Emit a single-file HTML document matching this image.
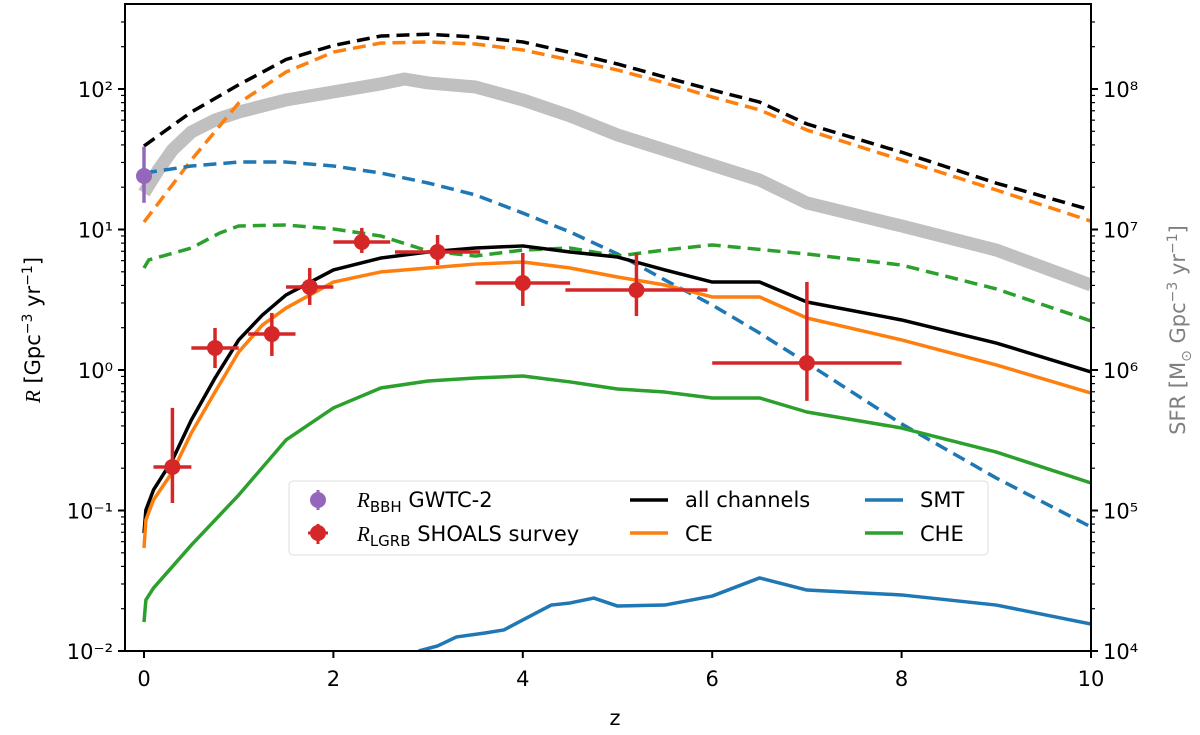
<!DOCTYPE html>
<html><head><meta charset="utf-8"><style>
body{margin:0;background:#fff}
svg{display:block;font-family:"DejaVu Sans","Liberation Sans",sans-serif}
</style></head><body>
<svg id="chart" width="1200" height="735" viewBox="0 0 1200 735" xmlns="http://www.w3.org/2000/svg">
<g id="plot"></g>
<g id="axes"></g>
</svg>
<script>
// ---- data (log10 of rate in Gpc^-3 yr^-1) ----
const zMain=[0,0.5,1,1.5,2,2.5,3,3.5,4,4.5,5,5.5,6,6.5,7,8,9,10];
const allDashed=[1.594,1.836,2.03,2.21,2.31,2.377,2.39,2.37,2.335,2.26,2.178,2.085,1.993,1.907,1.751,1.55,1.33,1.139];
const ceDashed=[1.053,1.495,1.9,2.121,2.263,2.327,2.335,2.32,2.278,2.206,2.135,2.043,1.943,1.851,1.708,1.495,1.281,1.06];
const smtDashed=[1.402,1.452,1.48,1.48,1.452,1.402,1.331,1.246,1.117,0.982,0.826,0.641,0.463,0.263,0.05,-0.384,-0.769,-1.117];
const zSfr=[0,0.15,0.3,0.5,0.75,1,1.5,2,2.5,2.75,3,3.5,4,4.5,5,5.5,6,6.5,7,8,9,10];
const sfr=[1.26,1.423,1.566,1.694,1.779,1.836,1.922,1.979,2.036,2.071,2.043,2.014,1.922,1.808,1.673,1.566,1.459,1.352,1.189,1.025,0.854,0.605];
const zCheD=[0,0.05,0.5,0.8,1,1.5,2,2.5,3,3.5,4,4.5,5,5.5,6,7,8,9,10];
const cheDashed=[0.726,0.783,0.868,0.975,1.025,1.032,1.004,0.954,0.847,0.811,0.854,0.868,0.811,0.854,0.89,0.826,0.747,0.577,0.349];
const zSolid=[0,0.02,0.1,0.3,0.5,0.75,1,1.25,1.5,2,2.5,3,3.5,4,4.5,5,5.5,6,6.5,7,8,9,10];
const allSolid=[-1.16,-0.996,-0.854,-0.641,-0.356,-0.057,0.214,0.391,0.534,0.712,0.797,0.84,0.868,0.883,0.84,0.804,0.712,0.626,0.626,0.484,0.356,0.192,-0.014];
const ceSolid=[-1.267,-1.068,-0.925,-0.726,-0.448,-0.157,0.128,0.32,0.441,0.626,0.698,0.726,0.754,0.769,0.726,0.662,0.605,0.52,0.52,0.37,0.214,0.036,-0.164];
const zChe=[0,0.02,0.1,0.5,1,1.5,2,2.5,3,3.5,4,4.5,5,5.5,6,6.5,7,8,9,10];
const cheSolid=[-1.794,-1.637,-1.552,-1.246,-0.89,-0.498,-0.27,-0.128,-0.078,-0.057,-0.043,-0.085,-0.135,-0.157,-0.199,-0.199,-0.299,-0.413,-0.584,-0.804];
const zSmt=[2.9,3.1,3.3,3.6,3.8,4,4.3,4.5,4.75,5,5.5,6,6.5,7,8,9,10];
const smtSolid=[-2,-1.964,-1.9,-1.872,-1.85,-1.779,-1.673,-1.658,-1.623,-1.68,-1.673,-1.609,-1.48,-1.566,-1.601,-1.673,-1.808];
// LGRB points: z, xerr, log value, log low, log high
const lgrbZ=[0.3,0.75,1.35,1.75,2.3,3.1,4.0,5.2,7.0];
const lgrbXerr=[0.2,0.25,0.25,0.25,0.3,0.45,0.5,0.75,1.0];
const lgrbVal=[-0.69,0.157,0.256,0.591,0.911,0.84,0.619,0.569,0.05];
const lgrbLo=[-0.947,0.014,0.1,0.463,0.833,0.747,0.456,0.384,-0.22];
const lgrbHi=[-0.27,0.299,0.406,0.726,1.011,0.961,0.833,0.833,0.626];
const bbhZ=[0], bbhVal=[1.381], bbhLo=[1.19], bbhHi=[1.59];
const xTicks=[0,2,4,6,8,10];
const yTicks=[-2,-1,0,1,2];
const yTickLabels=["10\u207b\u00b2","10\u207b\u00b9","10\u2070","10\u00b9","10\u00b2"];
const rTickLabels=["10\u2074","10\u2075","10\u2076","10\u2077","10\u2078"];

const L=125,R=1091,T=4,B=651;
const X=z=>144+z*94.7;
const Y=lg=>651-(lg+2)*140.5;
const NS="http://www.w3.org/2000/svg";
const plot=document.getElementById('plot'), axes=document.getElementById('axes');
function mk(tag,attrs,parent){const e=document.createElementNS(NS,tag);for(const k in attrs)e.setAttribute(k,attrs[k]);parent.appendChild(e);return e;}
const cp=mk('clipPath',{id:'clip'},plot);
mk('rect',{x:L,y:T,width:R-L,height:B-T},cp);
const g=mk('g',{'clip-path':'url(#clip)'},plot);
function line(zs,vs,color,w,dash,name){
  const p=mk('polyline',{points:zs.map((z,i)=>X(z)+','+Y(vs[i])).join(' '),fill:'none',stroke:color,'stroke-width':w,'stroke-dasharray':dash||'none','stroke-linejoin':'round'},g);
  
  
}
line(zSfr,sfr,'#c0c0c0',13,null,'sfr-band');
line(zMain,allDashed,'#000',3.5,'13,7','all-channels-dashed');
line(zMain,ceDashed,'#ff7f0e',3.5,'13,7','ce-dashed');
line(zMain,smtDashed,'#1f77b4',3.5,'13,7','smt-dashed');
line(zCheD,cheDashed,'#2ca02c',3.5,'13,7','che-dashed');
line(zSolid,allSolid,'#000',3.5,null,'all-channels-line');
line(zSolid,ceSolid,'#ff7f0e',3.5,null,'ce-line');
line(zChe,cheSolid,'#2ca02c',3.5,null,'che-line');
line(zSmt,smtSolid,'#1f77b4',3.5,null,'smt-line');
function pts(zs,vs,lo,hi,xe,color,name){
  zs.forEach((z,i)=>{
    const gg=mk('g',{},g);
    
    
    mk('line',{x1:X(z),x2:X(z),y1:Y(lo[i]),y2:Y(hi[i]),stroke:color,'stroke-width':3.5},gg);
    if(xe) mk('line',{x1:X(z-xe[i]),x2:X(z+xe[i]),y1:Y(vs[i]),y2:Y(vs[i]),stroke:color,'stroke-width':3.5},gg);
    mk('circle',{cx:X(z),cy:Y(vs[i]),r:8,fill:color},gg);
  });
}
pts(bbhZ,bbhVal,bbhLo,bbhHi,null,'#9467bd','bbh-point');
pts(lgrbZ,lgrbVal,lgrbLo,lgrbHi,lgrbXerr,'#d62728','lgrb-point');

const fr=mk('rect',{x:L,y:T,width:R-L,height:B-T,fill:'none',stroke:'#000','stroke-width':2},axes);

xTicks.forEach(t=>{
  mk('line',{x1:X(t),x2:X(t),y1:B,y2:B+7,stroke:'#000','stroke-width':2},axes);
  const tx=mk('text',{x:X(t),y:B+35,'text-anchor':'middle','font-size':21},axes);tx.textContent=t;
  
});
yTicks.forEach((t,i)=>{
  mk('line',{x1:L-7,x2:L,y1:Y(t),y2:Y(t),stroke:'#000','stroke-width':2},axes);
  mk('line',{x1:R,x2:R+7,y1:Y(t),y2:Y(t),stroke:'#000','stroke-width':2},axes);
  const a=mk('text',{x:L-12,y:Y(t)+8,'text-anchor':'end','font-size':21},axes);a.textContent=yTickLabels[i];
  
  const b=mk('text',{x:R+12,y:Y(t)+8,'text-anchor':'start','font-size':21},axes);b.textContent=rTickLabels[i];
  
  for(let m=2;m<10;m++){const lg=t+Math.log10(m);if(lg>2.6)break;
    mk('line',{x1:L-4,x2:L,y1:Y(lg),y2:Y(lg),stroke:'#000','stroke-width':1.2},axes);
    mk('line',{x1:R,x2:R+4,y1:Y(lg),y2:Y(lg),stroke:'#000','stroke-width':1.2},axes);}
});
</script>
<svg width="1200" height="735" style="position:absolute;left:0;top:0" font-family="DejaVu Sans, Liberation Sans, sans-serif">
<text x="615" y="725" font-size="21" text-anchor="middle">z</text>
<text transform="translate(40,330) rotate(-90)" font-size="21" text-anchor="middle"><tspan font-family="Liberation Serif" font-style="italic">R</tspan>  [Gpc<tspan dy="-8" font-size="14">−3</tspan><tspan dy="8"> yr</tspan><tspan dy="-8" font-size="14">−1</tspan><tspan dy="8">]</tspan></text>
<text transform="translate(1185,330) rotate(-90)" font-size="21" fill="#808080" text-anchor="middle">SFR  [M<tspan dy="6" font-size="14">⊙</tspan><tspan dy="-6"> Gpc</tspan><tspan dy="-8" font-size="14">−3</tspan><tspan dy="8"> yr</tspan><tspan dy="-8" font-size="14">−1</tspan><tspan dy="8">]</tspan></text>
<g>
<rect x="289" y="481" width="699" height="74" rx="4" fill="#fff" fill-opacity="0.8" stroke="#ddd"/>
<g><line x1="318" y1="490" x2="318" y2="510" stroke="#9467bd" stroke-width="3"/><circle cx="318" cy="500" r="8" fill="#9467bd"/>
<text x="357" y="507" font-size="21"><tspan font-family="Liberation Serif" font-style="italic">R</tspan><tspan font-size="15" dy="5">BBH</tspan><tspan dy="-5"> GWTC-2</tspan></text></g>
<g><line x1="318" y1="524" x2="318" y2="544" stroke="#d62728" stroke-width="3"/><line x1="308" y1="533" x2="328" y2="533" stroke="#d62728" stroke-width="3"/><circle cx="318" cy="533" r="8" fill="#d62728"/>
<text x="357" y="541" font-size="21"><tspan font-family="Liberation Serif" font-style="italic">R</tspan><tspan font-size="15" dy="5">LGRB</tspan><tspan dy="-5"> SHOALS survey</tspan></text></g>
<g><line x1="630" y1="500" x2="668" y2="500" stroke="#000" stroke-width="3.5"/><text x="685" y="507" font-size="21">all channels</text></g>
<g><line x1="630" y1="533" x2="668" y2="533" stroke="#ff7f0e" stroke-width="3.5"/><text x="685" y="541" font-size="21">CE</text></g>
<g><line x1="865" y1="500" x2="903" y2="500" stroke="#1f77b4" stroke-width="3.5"/><text x="920" y="507" font-size="21">SMT</text></g>
<g><line x1="865" y1="533" x2="903" y2="533" stroke="#2ca02c" stroke-width="3.5"/><text x="920" y="541" font-size="21">CHE</text></g>
</g>
</svg>
</body></html>
